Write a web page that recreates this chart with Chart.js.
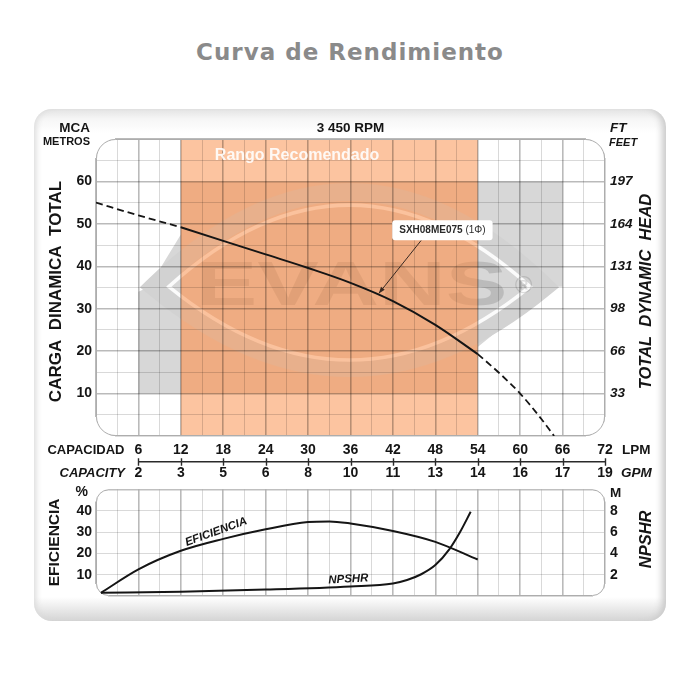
<!DOCTYPE html>
<html>
<head>
<meta charset="utf-8">
<script src="https://cdn.jsdelivr.net/npm/chart.js@4.4.1/dist/chart.umd.min.js"></script>
<style>
  html, body { margin: 0; padding: 0; background: #fff; }
  #page { position: relative; width: 700px; height: 700px; overflow: hidden; }
  #title {
    position: absolute; left: 0; top: 41px; width: 700px; text-align: center;
    font-family: 'DejaVu Sans', sans-serif; font-weight: bold; font-size: 23px;
    line-height: 23px; letter-spacing: 1px; color: #8a8a8a;
  }
  #panel {
    position: absolute; left: 34px; top: 109px; width: 632px; height: 512px;
    border-radius: 18px;
    background: linear-gradient(to bottom, #e3e3e3 0px, #f6f6f6 10px, #ffffff 24px, #ffffff 488px, #d4d4d4 512px);
    box-shadow: inset -9px 0 7px -5px #c9c9c9, inset 6px 0 6px -4px #d9d9d9;
  }
  canvas { position: absolute; left: 0; }
  #headChart { top: 0; }
  #effChart { top: 476px; }
</style>
</head>
<body>
<div id="page">
  <div id="title">Curva de Rendimiento</div>
  <div id="panel"></div>
  <canvas id="headChart" width="700" height="486"></canvas>
  <canvas id="effChart" width="700" height="154"></canvas>
</div>
<script>
// ---- data ----
// head curve, LPM vs metres (solid inside the recommended range, dashed outside)
const headQSolid = [12, 18, 24, 30, 36, 42, 48, 54];
const headHSolid = [49.2, 46.0, 42.8, 39.6, 36.1, 31.8, 26.2, 19.3];
const headQLeft = [0, 6, 12];
const headHLeft = [55.0, 52.0, 49.2];
const headQRight = [54, 57, 60, 63, 64.8];
const headHRight = [19.3, 14.9, 10.0, 4.0, 0];

// efficiency (%) and NPSHR (m)
const effQ = [0.7, 6, 12, 18, 24, 30, 33, 36, 42, 48, 54];
const effPct = [1.5, 12.5, 21.2, 26.8, 31.3, 34.7, 35.0, 34.0, 30.5, 25.4, 17.1];
const npshQ = [0.7, 12, 24, 36, 42, 44, 46, 48, 50, 51.5, 53];
const npshM = [0.3, 0.4, 0.6, 0.9, 1.18, 1.5, 2.04, 2.9, 4.4, 6.0, 7.9];

// tick labels
const lpmTicks = [6, 12, 18, 24, 30, 36, 42, 48, 54, 60, 66, 72];
const gpmLabels = ['2', '3', '5', '6', '8', '10', '11', '13', '14', '16', '17', '19'];
const headTicks = [10, 20, 30, 40, 50, 60];
const ftLabels = ['33', '66', '98', '131', '164', '197'];
const effTicks = [10, 20, 30, 40];
const npshTicks = [2, 4, 6, 8];

const rangeLPM = [12, 54];          // Rango Recomendado
const annTip = [40, 33.6];          // arrow tip on the curve
const annFrom = [46, 46.1];         // arrow start under the label
const annBox = [49, 48.5];          // label box centre

const FONT = "'Liberation Sans', Arial, Helvetica, sans-serif";
Chart.defaults.font.family = FONT;
Chart.defaults.color = '#1f1f1f';

const INK = '#151515';
const GRID_MINOR = 'rgba(0,0,0,0.15)';
const GRID_MAJOR = 'rgba(0,0,0,0.27)';

function pts(xs, ys) {
  return xs.map((x, i) => ({ x: x, y: ys[i] }));
}

function isMajor(c, step) {
  return c.tick && c.tick.value % step === 0;
}

// mask the four corners of the plot so it looks rounded, then draw its border
function roundPlot(chart, r) {
  const ctx = chart.ctx, a = chart.chartArea;
  const L = a.left, T = a.top, R = a.right, B = a.bottom;
  ctx.save();
  ctx.fillStyle = '#ffffff';
  [[L, T, 1, 1], [R, T, -1, 1], [R, B, -1, -1], [L, B, 1, -1]].forEach(([cx, cy, sx, sy]) => {
    ctx.beginPath();
    ctx.moveTo(cx - sx * 2, cy - sy * 2);
    ctx.lineTo(cx + sx * r, cy - sy * 2);
    ctx.lineTo(cx + sx * r, cy);
    ctx.arcTo(cx, cy, cx, cy + sy * r, r);
    ctx.lineTo(cx - sx * 2, cy + sy * r);
    ctx.closePath();
    ctx.fill();
  });
  ctx.strokeStyle = '#adadad';
  ctx.lineWidth = 1;
  ctx.beginPath();
  ctx.roundRect(L + 0.5, T + 0.5, R - L - 1, B - T - 1, r);
  ctx.stroke();
  ctx.restore();
}

function vText(ctx, text, x, y, font, color) {
  ctx.save();
  ctx.translate(x, y);
  ctx.rotate(-Math.PI / 2);
  ctx.font = font;
  ctx.fillStyle = color || INK;
  ctx.textAlign = 'center';
  ctx.textBaseline = 'middle';
  ctx.fillText(text, 0, 0);
  ctx.restore();
}

function txt(ctx, text, x, y, font, align) {
  ctx.font = font;
  ctx.textAlign = align || 'center';
  ctx.textBaseline = 'middle';
  ctx.fillText(text, x, y);
}

// background: EVANS watermark + recommended range
function drawBackground(chart) {
  const { ctx, chartArea: a } = chart;
  const x = chart.scales.x, y = chart.scales.y;
  const px = q => x.getPixelForValue(q);
  const py = h => y.getPixelForValue(h);
  const poly = list => {
    ctx.beginPath();
    list.forEach(([q, h], i) => (i ? ctx.lineTo(px(q), py(h)) : ctx.moveTo(px(q), py(h))));
    ctx.closePath();
    ctx.fill();
  };
  const eye = (q1, q2, hMid, hTop, hBot) => {
    const qm = (q1 + q2) / 2;
    ctx.beginPath();
    ctx.moveTo(px(q1), py(hMid));
    ctx.quadraticCurveTo(px(qm), py(hTop), px(q2), py(hMid));
    ctx.quadraticCurveTo(px(qm), py(hBot), px(q1), py(hMid));
    ctx.closePath();
    ctx.stroke();
  };

  ctx.save();
  ctx.beginPath();
  ctx.rect(a.left, a.top, a.width, a.height);
  ctx.clip();

  // logo block: warm under the orange, plain grey at the sides
  ctx.fillStyle = '#e2cbbd';
  ctx.fillRect(px(12), py(60), px(54) - px(12), py(10) - py(60));
  ctx.fillStyle = '#d7d7d7';
  poly([[6, 10], [6, 34], [7.5, 35.2], [12, 47.5], [12, 10]]);
  poly([[54, 60], [66, 60], [66, 35.2], [64.5, 35.2], [54, 21]]);

  ctx.strokeStyle = '#d2d2d2';
  ctx.lineWidth = 18;
  ctx.lineJoin = 'miter';
  eye(8.1, 63.6, 35.2, 79.8, -3.2);
  ctx.strokeStyle = 'rgba(255,255,255,0.9)';
  ctx.lineWidth = 3.5;
  eye(10.3, 61.4, 35.2, 73.6, 0.6);

  // wordmark
  ctx.fillStyle = 'rgba(0,0,0,0.13)';
  ctx.font = 'bold 63px ' + FONT;
  const w = ctx.measureText('EVANS').width;
  ctx.save();
  ctx.translate((px(14.1) + px(58.2)) / 2, py(35.4));
  ctx.scale(312 / w, 1);
  ctx.textAlign = 'center';
  ctx.textBaseline = 'middle';
  ctx.fillText('EVANS', 0, 2);
  ctx.restore();
  ctx.fillStyle = 'rgba(0,0,0,0.12)';
  txt(ctx, '®', px(60.5), py(35.2), 'bold 24px ' + FONT);

  // recommended range overlay
  ctx.fillStyle = 'rgba(249,148,82,0.55)';
  ctx.fillRect(px(rangeLPM[0]), a.top, px(rangeLPM[1]) - px(rangeLPM[0]), a.height);
  ctx.restore();
}

const headDecor = {
  id: 'headDecor',
  beforeDraw(chart) {
    drawBackground(chart);
  },
  beforeDatasetsDraw(chart) {
    roundPlot(chart, 19);
    const { ctx, chartArea: a } = chart;
    ctx.save();
    ctx.fillStyle = 'rgba(255,255,255,0.9)';
    txt(ctx, 'Rango Recomendado', chart.scales.x.getPixelForValue(rangeLPM[0]) + 34, a.top + 17, 'bold 16px ' + FONT, 'left');
    ctx.restore();
  },
  afterDatasetsDraw(chart) {
    const { ctx } = chart;
    const x = chart.scales.x, y = chart.scales.y;
    // model label with arrow
    const tx = x.getPixelForValue(annTip[0]), ty = y.getPixelForValue(annTip[1]);
    const fx = x.getPixelForValue(annFrom[0]), fy = y.getPixelForValue(annFrom[1]);
    ctx.save();
    ctx.strokeStyle = '#3a2a22';
    ctx.fillStyle = '#3a2a22';
    ctx.lineWidth = 1;
    ctx.beginPath();
    ctx.moveTo(fx, fy);
    ctx.lineTo(tx, ty);
    ctx.stroke();
    const ang = Math.atan2(ty - fy, tx - fx);
    ctx.beginPath();
    ctx.moveTo(tx, ty);
    ctx.lineTo(tx - 7 * Math.cos(ang - 0.35), ty - 7 * Math.sin(ang - 0.35));
    ctx.lineTo(tx - 7 * Math.cos(ang + 0.35), ty - 7 * Math.sin(ang + 0.35));
    ctx.closePath();
    ctx.fill();

    const bx = x.getPixelForValue(annBox[0]), by = y.getPixelForValue(annBox[1]);
    ctx.font = 'bold 10px ' + FONT;
    const w1 = ctx.measureText('SXH08ME075').width;
    ctx.font = '10px ' + FONT;
    const w2 = ctx.measureText(' (1Φ)').width;
    const bw = w1 + w2 + 14, bh = 20;
    ctx.fillStyle = '#ffffff';
    ctx.beginPath();
    ctx.roundRect(bx - bw / 2, by - bh / 2, bw, bh, 3);
    ctx.fill();
    ctx.fillStyle = '#2a2a2a';
    ctx.textBaseline = 'middle';
    ctx.textAlign = 'left';
    ctx.font = 'bold 10px ' + FONT;
    ctx.fillText('SXH08ME075', bx - (w1 + w2) / 2, by + 0.5);
    ctx.font = '10px ' + FONT;
    ctx.fillText(' (1Φ)', bx - (w1 + w2) / 2 + w1, by + 0.5);
    ctx.restore();
  },
  afterDraw(chart) {
    const { ctx, chartArea: a } = chart;
    const x = chart.scales.x;
    ctx.save();
    ctx.fillStyle = INK;
    // axis headers
    txt(ctx, 'MCA', 90, a.top - 11, 'bold 13.5px ' + FONT, 'right');
    txt(ctx, 'METROS', 90, a.top + 3, 'bold 11px ' + FONT, 'right');
    txt(ctx, '3 450 RPM', (a.left + a.right) / 2, a.top - 11, 'bold 13.5px ' + FONT);
    txt(ctx, 'FT', a.right + 5, a.top - 11, 'italic bold 13.5px ' + FONT, 'left');
    txt(ctx, 'FEET', a.right + 4, a.top + 3.5, 'italic bold 11px ' + FONT, 'left');
    vText(ctx, 'CARGA  DINAMICA  TOTAL', 56, 291.5, 'bold 17px ' + FONT);
    vText(ctx, 'TOTAL  DYNAMIC  HEAD', 646.5, 291.5, 'italic bold 16.5px ' + FONT);

    // capacity band: LPM row, scale line, GPM row
    const yL = a.bottom + 14, yLine = a.bottom + 25.7, yG = a.bottom + 37.5;
    ctx.fillStyle = INK;
    txt(ctx, 'CAPACIDAD', 124.5, yL, 'bold 13px ' + FONT, 'right');
    txt(ctx, 'CAPACITY', 125, yG, 'italic bold 13px ' + FONT, 'right');
    lpmTicks.forEach((q, i) => {
      txt(ctx, String(q), x.getPixelForValue(q), yL, 'bold 14px ' + FONT);
      txt(ctx, gpmLabels[i], x.getPixelForValue(q), yG, 'bold 14px ' + FONT);
    });
    txt(ctx, 'LPM', a.right + 17, yL, 'bold 13.5px ' + FONT, 'left');
    txt(ctx, 'GPM', a.right + 16, yG, 'italic bold 13.5px ' + FONT, 'left');
    ctx.strokeStyle = '#2a2a2a';
    ctx.lineWidth = 1.4;
    ctx.beginPath();
    ctx.moveTo(x.getPixelForValue(lpmTicks[0]), yLine);
    ctx.lineTo(x.getPixelForValue(lpmTicks[lpmTicks.length - 1]), yLine);
    lpmTicks.forEach(q => {
      const p = Math.round(x.getPixelForValue(q)) + 0.5;
      ctx.moveTo(p, yLine - 3.5);
      ctx.lineTo(p, yLine + 4);
    });
    ctx.stroke();
    ctx.restore();
  }
};

const headChart = new Chart(document.getElementById('headChart'), {
  type: 'line',
  data: {
    datasets: [
      { data: pts(headQSolid, headHSolid), borderColor: INK, borderWidth: 2 },
      { data: pts(headQLeft, headHLeft), borderColor: INK, borderWidth: 1.8, borderDash: [7, 4] },
      { data: pts(headQRight, headHRight), borderColor: INK, borderWidth: 1.8, borderDash: [7, 4] }
    ]
  },
  options: {
    responsive: false,
    animation: false,
    layout: { padding: { top: 139, left: 0, right: 0, bottom: 0 } },
    elements: {
      point: { radius: 0 },
      line: { cubicInterpolationMode: 'monotone', fill: false }
    },
    plugins: { legend: { display: false }, tooltip: { enabled: false } },
    scales: {
      x: {
        type: 'linear', min: 0, max: 72,
        ticks: { stepSize: 3, display: false },
        grid: { color: c => (isMajor(c, 6) ? GRID_MAJOR : GRID_MINOR), lineWidth: c => (isMajor(c, 6) ? 1.6 : 1), drawTicks: false },
        border: { display: false },
        afterFit: s => { s.height = 50; }
      },
      y: {
        min: 0, max: 70,
        ticks: {
          stepSize: 5, autoSkip: false, padding: 4, color: INK,
          font: { size: 14, weight: 'bold' },
          callback: v => (headTicks.includes(v) ? String(v) : '')
        },
        grid: { color: c => (isMajor(c, 10) ? GRID_MAJOR : GRID_MINOR), lineWidth: c => (isMajor(c, 10) ? 1.5 : 1), drawTicks: false },
        border: { display: false },
        afterFit: s => { s.width = 96; }
      },
      yFt: {
        position: 'right', min: 0, max: 70,
        ticks: {
          stepSize: 5, autoSkip: false, padding: 5, color: INK,
          font: { size: 13.5, weight: 'bold', style: 'italic' },
          callback: v => (headTicks.includes(v) ? ftLabels[headTicks.indexOf(v)] : '')
        },
        grid: { drawOnChartArea: false, drawTicks: false },
        border: { display: false },
        afterFit: s => { s.width = 95; }
      }
    }
  },
  plugins: [headDecor]
});

const effDecor = {
  id: 'effDecor',
  beforeDatasetsDraw(chart) {
    roundPlot(chart, 12);
  },
  afterDraw(chart) {
    const { ctx, chartArea: a } = chart;
    const x = chart.scales.x, y = chart.scales.y;
    ctx.save();
    ctx.fillStyle = INK;
    txt(ctx, '%', 88, a.top + 2.7, 'bold 14px ' + FONT, 'right');
    txt(ctx, 'M', a.right + 5, a.top + 3.7, 'bold 13.5px ' + FONT, 'left');
    vText(ctx, 'EFICIENCIA', 55, a.top + 53, 'bold 15.5px ' + FONT);
    vText(ctx, 'NPSHR', 646.5, a.top + 50, 'italic bold 16.5px ' + FONT);

    // curve labels
    ctx.save();
    ctx.translate(x.getPixelForValue(17), y.getPixelForValue(30.1));
    ctx.rotate(-20 * Math.PI / 180);
    txt(ctx, 'EFICIENCIA', 0, 0, 'italic bold 11.5px ' + FONT);
    ctx.restore();
    ctx.save();
    ctx.translate(x.getPixelForValue(35.7), y.getPixelForValue(7.9));
    ctx.rotate(-3 * Math.PI / 180);
    txt(ctx, 'NPSHR', 0, 0, 'italic bold 11.5px ' + FONT);
    ctx.restore();
    ctx.restore();
  }
};

const effChart = new Chart(document.getElementById('effChart'), {
  type: 'line',
  data: {
    datasets: [
      { data: pts(effQ, effPct), borderColor: INK, borderWidth: 2, yAxisID: 'y' },
      { data: pts(npshQ, npshM), borderColor: INK, borderWidth: 2, yAxisID: 'yM' }
    ]
  },
  options: {
    responsive: false,
    animation: false,
    layout: { padding: { top: 5, left: 0, right: 0, bottom: 0 } },
    elements: {
      point: { radius: 0 },
      line: { cubicInterpolationMode: 'monotone', fill: false }
    },
    plugins: { legend: { display: false }, tooltip: { enabled: false } },
    scales: {
      x: {
        type: 'linear', min: 0, max: 72,
        ticks: { stepSize: 3, display: false },
        grid: { color: c => (isMajor(c, 6) ? GRID_MAJOR : GRID_MINOR), lineWidth: c => (isMajor(c, 6) ? 1.6 : 1), drawTicks: false },
        border: { display: false },
        afterFit: s => { s.height = 34; }
      },
      y: {
        min: 0, max: 50,
        ticks: {
          stepSize: 10, autoSkip: false, padding: 4, color: INK,
          font: { size: 14, weight: 'bold' },
          callback: v => (effTicks.includes(v) ? String(v) : '')
        },
        grid: { color: GRID_MINOR, lineWidth: 1, drawTicks: false },
        border: { display: false },
        afterFit: s => { s.width = 96; }
      },
      yM: {
        position: 'right', min: 0, max: 10,
        ticks: {
          stepSize: 2, autoSkip: false, padding: 5, color: INK,
          font: { size: 14, weight: 'bold' },
          callback: v => (npshTicks.includes(v) ? String(v) : '')
        },
        grid: { drawOnChartArea: false, drawTicks: false },
        border: { display: false },
        afterFit: s => { s.width = 95; }
      }
    }
  },
  plugins: [effDecor]
});
</script>
</body>
</html>
